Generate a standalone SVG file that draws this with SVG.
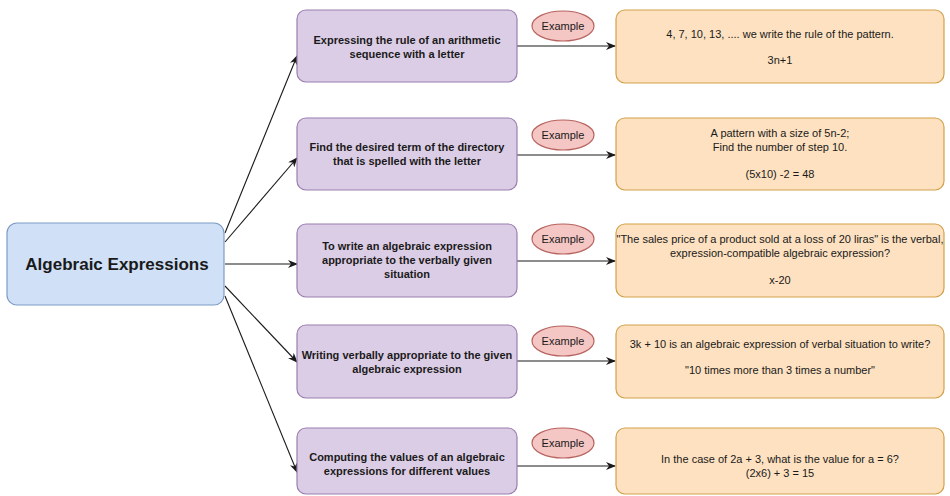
<svg xmlns="http://www.w3.org/2000/svg" width="950" height="496" viewBox="0 0 950 496">
<style>
text{font-family:"Liberation Sans",Arial,sans-serif;fill:#1a1a1a;text-anchor:middle}
.main rect{fill:#cfe0f7;stroke:#7f9cc6;stroke-width:1.2}
.topic rect{fill:#dccde6;stroke:#9b7fb0;stroke-width:1.2}
.ex rect{fill:#fde1c0;stroke:#d3a14a;stroke-width:1.2}
.tag ellipse{fill:#f4c6c4;stroke:#b8625e;stroke-width:1.2}
.b{font-weight:bold;font-size:11px}
.n{font-size:11px}
.conn line{stroke:#1a1a1a;stroke-width:1.1;marker-end:url(#ah)}
</style>
<defs>
<marker id="ah" markerWidth="10" markerHeight="8" refX="9" refY="4" orient="auto" markerUnits="userSpaceOnUse">
<path d="M0,0 L10,4 L0,8 L3,4 Z" fill="#1a1a1a"/>
</marker>
</defs>
<rect width="950" height="496" fill="#fff"/>
<g id="connectors" class="conn">
<line x1="225" y1="233" x2="297" y2="56"/>
<line x1="225" y1="242" x2="297" y2="158"/>
<line x1="225" y1="264" x2="297" y2="264"/>
<line x1="225" y1="286" x2="297" y2="362"/>
<line x1="225" y1="296" x2="297" y2="472"/>
<line x1="517" y1="46" x2="615" y2="46"/>
<line x1="517" y1="155" x2="615" y2="155"/>
<line x1="517" y1="261" x2="615" y2="261"/>
<line x1="517" y1="361" x2="615" y2="361"/>
<line x1="517" y1="466" x2="615" y2="466"/>
</g>
<g id="main" class="main">
<rect x="7" y="223" width="217" height="82" rx="10"/>
<text x="117" y="270" style="font-weight:bold;font-size:17px">Algebraic Expressions</text>
</g>
<g id="topic1" class="topic">
<rect x="297" y="10" width="220" height="72" rx="9"/>
<text class="b" x="407" y="44">Expressing the rule of an arithmetic</text>
<text class="b" x="407" y="58">sequence with a letter</text>
</g>
<g id="topic2" class="topic">
<rect x="297" y="118" width="220" height="72" rx="9"/>
<text class="b" x="407" y="151">Find the desired term of the directory</text>
<text class="b" x="407" y="165">that is spelled with the letter</text>
</g>
<g id="topic3" class="topic">
<rect x="297" y="224" width="220" height="73" rx="9"/>
<text class="b" x="407" y="250">To write an algebraic expression</text>
<text class="b" x="407" y="264">appropriate to the verbally given</text>
<text class="b" x="407" y="278">situation</text>
</g>
<g id="topic4" class="topic">
<rect x="297" y="325" width="220" height="73" rx="9"/>
<text class="b" x="407" y="359">Writing verbally appropriate to the given</text>
<text class="b" x="407" y="373">algebraic expression</text>
</g>
<g id="topic5" class="topic">
<rect x="297" y="428" width="220" height="66" rx="9"/>
<text class="b" x="407" y="461">Computing the values of an algebraic</text>
<text class="b" x="407" y="475">expressions for different values</text>
</g>
<g id="tag1" class="tag"><ellipse cx="563" cy="26" rx="31" ry="15"/><text class="n" x="563" y="30">Example</text></g>
<g id="tag2" class="tag"><ellipse cx="563" cy="135" rx="31" ry="15"/><text class="n" x="563" y="139">Example</text></g>
<g id="tag3" class="tag"><ellipse cx="563" cy="239" rx="31" ry="15"/><text class="n" x="563" y="243">Example</text></g>
<g id="tag4" class="tag"><ellipse cx="563" cy="341" rx="31" ry="15"/><text class="n" x="563" y="345">Example</text></g>
<g id="tag5" class="tag"><ellipse cx="563" cy="443" rx="31" ry="15"/><text class="n" x="563" y="447">Example</text></g>
<g id="ex1" class="ex">
<rect x="616" y="10" width="328" height="73" rx="9"/>
<text class="n" x="780" y="38">4, 7, 10, 13, .... we write the rule of the pattern.</text>
<text class="n" x="780" y="64">3n+1</text>
</g>
<g id="ex2" class="ex">
<rect x="616" y="118" width="328" height="72" rx="9"/>
<text class="n" x="780" y="137">A pattern with a size of 5n-2;</text>
<text class="n" x="780" y="151">Find the number of step 10.</text>
<text class="n" x="780" y="178">(5x10) -2 = 48</text>
</g>
<g id="ex3" class="ex">
<rect x="616" y="224" width="328" height="73" rx="9"/>
<text class="n" x="780" y="243">"The sales price of a product sold at a loss of 20 liras" is the verbal,</text>
<text class="n" x="780" y="257">expression-compatible algebraic expression?</text>
<text class="n" x="780" y="284">x-20</text>
</g>
<g id="ex4" class="ex">
<rect x="616" y="325" width="328" height="73" rx="9"/>
<text class="n" x="780" y="348">3k + 10 is an algebraic expression of verbal situation to write?</text>
<text class="n" x="780" y="374">"10 times more than 3 times a number"</text>
</g>
<g id="ex5" class="ex">
<rect x="616" y="428" width="328" height="66" rx="9"/>
<text class="n" x="780" y="463">In the case of 2a + 3, what is the value for a = 6?</text>
<text class="n" x="780" y="477">(2x6) + 3 = 15</text>
</g>
</svg>
